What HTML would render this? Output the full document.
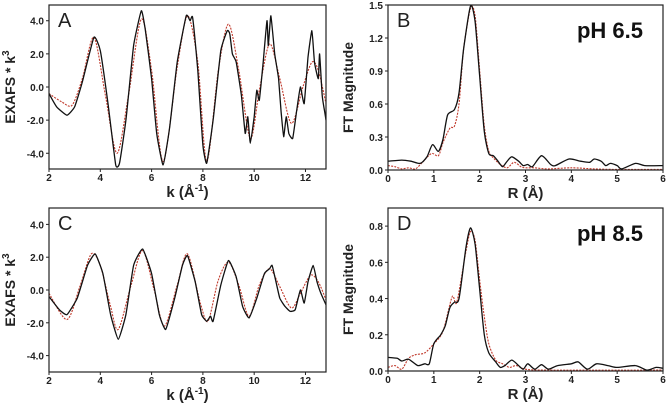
<!DOCTYPE html>
<html><head><meta charset="utf-8"><style>
html,body{margin:0;padding:0;background:#fff;}
svg{display:block;font-family:"Liberation Sans",sans-serif;}
</style></head><body>
<svg id="fig" width="667" height="405" viewBox="0 0 667 405"></svg>
<script>
// ---- data ----
const aBlack=[[2.0,-0.4],[2.3,-1.2],[2.7,-1.7],[3.0,-1.2],[3.3,0.3],[3.75,3.0],[4.0,2.2],[4.3,-1.0],[4.6,-4.7],[4.75,-4.6],[5.0,-2.0],[5.3,2.5],[5.6,4.6],[5.75,3.5],[6.0,0.5],[6.2,-2.8],[6.45,-4.7],[6.7,-2.5],[7.0,1.5],[7.35,4.3],[7.5,4.0],[7.6,4.2],[7.8,1.0],[8.0,-3.5],[8.15,-4.6],[8.4,-2.0],[8.7,2.2],[8.95,3.4],[9.05,3.2],[9.15,2.0],[9.3,1.5],[9.5,-0.5],[9.65,-2.8],[9.75,-1.8],[9.85,-3.4],[10.0,-1.8],[10.1,-0.2],[10.2,-0.8],[10.35,1.5],[10.5,4.0],[10.55,2.5],[10.65,4.3],[10.8,2.0],[10.95,0.5],[11.05,-1.5],[11.15,-3.0],[11.25,-1.8],[11.35,-2.8],[11.5,-3.1],[11.65,-1.5],[11.8,0.0],[11.95,-1.0],[12.1,1.8],[12.25,3.4],[12.35,1.5],[12.5,0.5],[12.55,2.0],[12.65,-0.5],[12.75,-1.5],[12.8,-2.0]];
const aRed=[[2.0,-0.4],[2.5,-0.9],[2.9,-1.1],[3.3,0.5],[3.75,3.0],[4.2,-0.5],[4.65,-4.0],[5.1,-0.5],[5.6,4.1],[6.0,1.0],[6.45,-4.5],[7.0,1.2],[7.4,4.3],[7.8,1.5],[8.15,-4.5],[8.6,1.0],[9.0,3.8],[9.4,1.0],[9.85,-3.1],[10.2,-0.2],[10.6,2.6],[11.0,0.5],[11.45,-2.2],[11.9,0.0],[12.25,1.5],[12.5,1.0],[12.8,-1.0]];
const cBlack=[[2.0,-0.4],[2.4,-1.2],[2.7,-1.5],[3.1,-0.5],[3.5,1.5],[3.8,2.2],[4.1,1.0],[4.4,-1.5],[4.7,-3.0],[5.0,-1.5],[5.3,1.5],[5.65,2.5],[6.0,1.0],[6.3,-1.5],[6.55,-2.4],[6.9,-0.5],[7.2,1.5],[7.4,2.1],[7.7,0.5],[7.95,-1.5],[8.15,-1.9],[8.3,-1.6],[8.4,-1.9],[8.7,0.3],[9.0,1.8],[9.3,0.8],[9.55,-1.0],[9.8,-1.7],[10.1,-0.5],[10.4,1.0],[10.6,1.3],[10.7,1.5],[10.85,0.5],[11.0,-0.5],[11.2,-1.0],[11.4,-1.3],[11.6,-1.2],[11.8,0.0],[11.95,-0.8],[12.1,0.5],[12.3,1.5],[12.45,0.5],[12.6,-0.2],[12.8,-0.9]];
const cRed=[[2.0,-0.2],[2.7,-1.8],[3.2,0.2],[3.65,2.2],[4.0,1.5],[4.4,-1.0],[4.7,-2.4],[5.2,0.3],[5.65,2.4],[6.1,0.0],[6.5,-2.2],[7.0,0.3],[7.4,2.2],[7.9,-0.8],[8.2,-1.9],[8.6,0.6],[9.0,1.7],[9.4,0.3],[9.8,-1.6],[10.2,0.3],[10.6,1.3],[11.0,0.2],[11.45,-1.1],[11.8,-0.2],[12.2,0.9],[12.5,0.5],[12.8,-0.6]];
const bBlack=[[0,0.08],[0.3,0.09],[0.5,0.08],[0.7,0.06],[0.85,0.12],[0.97,0.23],[1.1,0.17],[1.2,0.28],[1.3,0.5],[1.45,0.55],[1.55,0.7],[1.65,1.1],[1.8,1.49],[1.9,1.35],[2.0,0.85],[2.1,0.35],[2.2,0.15],[2.3,0.13],[2.4,0.08],[2.5,0.03],[2.6,0.08],[2.7,0.12],[2.85,0.08],[2.95,0.04],[3.05,0.05],[3.15,0.03],[3.35,0.13],[3.55,0.05],[3.65,0.04],[3.95,0.1],[4.2,0.08],[4.4,0.07],[4.5,0.1],[4.65,0.08],[4.75,0.04],[4.85,0.06],[5.0,0.04],[5.1,0.01],[5.4,0.06],[5.6,0.04],[6.0,0.04]];
const bRed=[[0,0.04],[0.15,0.03],[0.3,0.01],[0.45,0.02],[0.6,0.01],[0.75,0.07],[0.95,0.15],[1.1,0.13],[1.2,0.25],[1.35,0.38],[1.45,0.4],[1.55,0.6],[1.65,1.1],[1.8,1.47],[1.9,1.4],[2.0,0.9],[2.1,0.4],[2.2,0.17],[2.3,0.11],[2.45,0.05],[2.6,0.02],[2.75,0.07],[2.9,0.03],[3.0,0.02],[3.2,0.02],[3.5,0.01],[4.0,0.02],[4.5,0.01],[5.0,0.005],[6.0,0.005]];
const dBlack=[[0,0.075],[0.2,0.07],[0.3,0.055],[0.45,0.065],[0.65,0.03],[0.8,0.04],[0.9,0.04],[1.0,0.15],[1.15,0.2],[1.25,0.25],[1.35,0.35],[1.45,0.38],[1.55,0.4],[1.7,0.68],[1.8,0.79],[1.9,0.7],[2.0,0.45],[2.1,0.2],[2.2,0.1],[2.35,0.05],[2.45,0.02],[2.55,0.03],[2.7,0.06],[2.85,0.03],[2.95,0.01],[3.05,0.04],[3.2,0.01],[3.35,0.035],[3.5,0.01],[3.7,0.03],[4.0,0.04],[4.15,0.05],[4.35,0.01],[4.55,0.04],[4.8,0.03],[5.0,0.02],[5.4,0.03],[5.65,0.005],[5.85,0.02],[6.0,0.015]];
const dRed=[[0,0.02],[0.15,0.03],[0.3,0.01],[0.45,0.07],[0.6,0.09],[0.8,0.1],[1.0,0.15],[1.2,0.22],[1.4,0.41],[1.5,0.38],[1.7,0.66],[1.8,0.77],[1.9,0.72],[2.0,0.5],[2.1,0.3],[2.2,0.15],[2.35,0.06],[2.5,0.04],[2.65,0.02],[2.8,0.03],[3.0,0.01],[3.5,0.005],[6.0,0.005]];
const kTicks=[2,4,6,8,10,12];
const exafsTicks=[4,2,0,-2,-4];
const rTicks=[0,1,2,3,4,5,6];
const ftTicksB=[0,0.3,0.6,0.9,1.2,1.5];
const ftTicksD=[0,0.2,0.4,0.6,0.8];

const NS='http://www.w3.org/2000/svg';
const svg=document.getElementById('fig');
function mk(tag,attrs,parent){const e=document.createElementNS(NS,tag);for(const k in attrs)e.setAttribute(k,attrs[k]);(parent||svg).appendChild(e);return e;}
function path(pts,sx,sy,ten){
  const p=pts.map(d=>[sx(d[0]),sy(d[1])]);
  let s='M'+p[0][0].toFixed(1)+','+p[0][1].toFixed(1);
  for(let i=0;i<p.length-1;i++){
    const p0=p[i-1]||p[i],p1=p[i],p2=p[i+1],p3=p[i+2]||p2;
    const c1=[p1[0]+(p2[0]-p0[0])/ten,p1[1]+(p2[1]-p0[1])/ten];
    const c2=[p2[0]-(p3[0]-p1[0])/ten,p2[1]-(p3[1]-p1[1])/ten];
    s+=' C'+c1.map(v=>v.toFixed(1)).join(',')+' '+c2.map(v=>v.toFixed(1)).join(',')+' '+p2.map(v=>v.toFixed(1)).join(',');
  }
  return s;
}
function panel(cfg){
  const g=mk('g',{});
  
  
  const sx=v=>cfg.x0+(v-cfg.xmin)/(cfg.xmax-cfg.xmin)*(cfg.x1-cfg.x0);
  const sy=v=>cfg.y1-(v-cfg.ymin)/(cfg.ymax-cfg.ymin)*(cfg.y1-cfg.y0);
  const clip=mk('clipPath',{id:'clip'+cfg.letter},g);
  mk('rect',{x:cfg.x0,y:cfg.y0,width:cfg.x1-cfg.x0,height:cfg.y1-cfg.y0},clip);
  const plot=mk('g',{'clip-path':'url(#clip'+cfg.letter+')'},g);
  const r=mk('path',{d:path(cfg.red,sx,sy,7),fill:'none',stroke:'#c0392b','stroke-width':1.1,'stroke-dasharray':'2,1.2'},plot);
  
  
  const b=mk('path',{d:path(cfg.black,sx,sy,cfg.bten),fill:'none',stroke:'#111','stroke-width':1.3},plot);
  
  
  const fr=mk('rect',{x:cfg.x0,y:cfg.y0,width:cfg.x1-cfg.x0,height:cfg.y1-cfg.y0,fill:'none',stroke:'#222','stroke-width':1.2},g);
  
  
  cfg.xt.forEach(v=>{
    mk('line',{x1:sx(v),x2:sx(v),y1:cfg.y1,y2:cfg.y1+3,stroke:'#222'},g);
    const t=mk('text',{x:sx(v),y:cfg.y1+12,'text-anchor':'middle','font-size':10,'font-weight':'bold',fill:'#222'},g);
    t.textContent=v;
    
    
  });
  cfg.yt.forEach(v=>{
    mk('line',{x1:cfg.x0-3,x2:cfg.x0,y1:sy(v),y2:sy(v),stroke:'#222'},g);
    const t=mk('text',{x:cfg.x0-5,y:sy(v)+4,'text-anchor':'end','font-size':10,'font-weight':'bold',fill:'#222'},g);
    t.textContent=v.toFixed(1);
    
    
  });
  const cy=(cfg.y0+cfg.y1)/2, cx=(cfg.x0+cfg.x1)/2;
  const yl=mk('text',{x:0,y:0,transform:'translate('+(cfg.ylx)+','+cy+') rotate(-90)','text-anchor':'middle','font-size':14,'font-weight':'bold',fill:'#222'},g);
  yl.innerHTML=cfg.ylab;
  
  
  const xl=mk('text',{x:cx,y:cfg.y1+28,'text-anchor':'middle','font-size':15,'font-weight':'bold',fill:'#222'},g);
  xl.innerHTML=cfg.xlab;
  
  
  const lt=mk('text',{x:cfg.x0+9,y:cfg.y0+22,'font-size':20,fill:'#222'},g);
  lt.textContent=cfg.letter;
  
  
  if(cfg.ph){
    const ph=mk('text',{x:cfg.x1-20,y:cfg.y0+33,'text-anchor':'end','font-size':22,'font-weight':'bold',fill:'#111'},g);
    ph.textContent=cfg.ph;
    
    
  }
}
const kLab='k (Å<tspan dy="-6" font-size="10">-1</tspan><tspan dy="6">)</tspan>';
const eLab='EXAFS * k<tspan dy="-6" font-size="10">3</tspan>';
panel({letter:'A',bten:14,x0:49,x1:326,y0:5,y1:169,xmin:2,xmax:12.8,ymin:-4.95,ymax:4.95,black:aBlack,red:aRed,xt:kTicks,yt:exafsTicks,xlab:kLab,ylab:eLab,ylx:15});
panel({letter:'C',bten:14,x0:49,x1:326,y0:208,y1:372,xmin:2,xmax:12.8,ymin:-5,ymax:5,black:cBlack,red:cRed,xt:kTicks,yt:exafsTicks,xlab:kLab,ylab:eLab,ylx:15});
panel({letter:'B',bten:8,x0:388,x1:663,y0:5,y1:170,xmin:0,xmax:6,ymin:0,ymax:1.5,black:bBlack,red:bRed,xt:rTicks,yt:ftTicksB,xlab:'R (Å)',ylab:'FT Magnitude',ylx:353,ph:'pH 6.5'});
panel({letter:'D',bten:8,x0:388,x1:663,y0:208,y1:371,xmin:0,xmax:6,ymin:0,ymax:0.9,black:dBlack,red:dRed,xt:rTicks,yt:ftTicksD,xlab:'R (Å)',ylab:'FT Magnitude',ylx:353,ph:'pH 8.5'});
</script>
</body></html>
